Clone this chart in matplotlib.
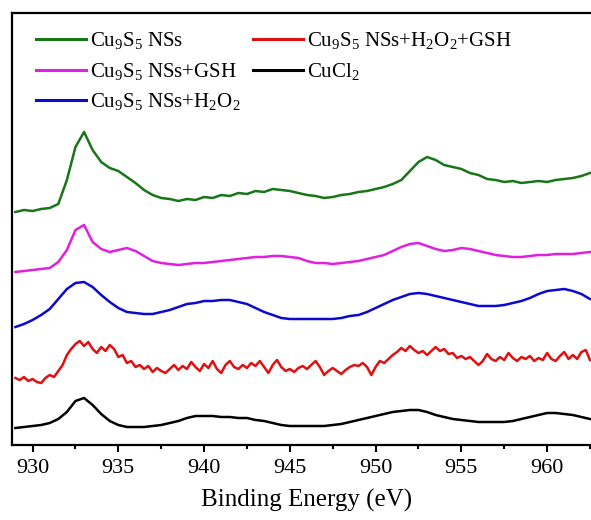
import numpy as np
import matplotlib
matplotlib.use("Agg")
import matplotlib.pyplot as plt
from matplotlib.ticker import MultipleLocator

plt.rcParams['font.family'] = ['Liberation Serif', 'DejaVu Serif']
plt.rcParams['mathtext.fontset'] = 'custom'
plt.rcParams['mathtext.rm'] = 'Liberation Serif'
plt.rcParams['mathtext.it'] = 'Liberation Serif:italic'

# ---- data (binding energy in eV, intensity in arbitrary offset units) ----
energy_coarse = np.arange(929.0, 962.51, 0.5)
energy_fine = np.arange(929.0, 962.51, 0.25)

green_nss = [233, 235, 234, 236, 237, 241, 265, 298, 313, 295, 283, 277, 274, 268, 262, 255,
             250, 247, 246, 244, 246, 245, 248, 247, 250, 249, 252, 251, 254, 253, 256, 255,
             254, 252, 250, 249, 247, 248, 250, 251, 253, 254, 256, 258, 261, 265, 274, 283,
             288, 285, 280, 278, 276, 272, 270, 266, 265, 263, 264, 262, 263, 264, 263, 265,
             266, 267, 269, 272]

magenta_gsh = [173, 174, 175, 176, 177, 183, 195, 215, 220, 203, 196, 193, 195, 197, 194, 189,
               184, 182, 181, 180, 181, 182, 182, 183, 184, 185, 186, 187, 188, 188, 189, 189,
               188, 187, 184, 182, 182, 181, 182, 183, 184, 186, 188, 190, 194, 198, 201, 202,
               199, 196, 194, 195, 197, 196, 194, 192, 190, 189, 188, 188, 189, 190, 190, 191,
               191, 191, 192, 193]

blue_h2o2 = [118, 121, 125, 130, 136, 146, 156, 162, 163, 158, 150, 143, 137, 133, 132, 131,
             131, 133, 135, 138, 141, 142, 144, 144, 145, 145, 143, 141, 137, 133, 130, 127,
             126, 126, 126, 126, 126, 126, 127, 129, 130, 133, 137, 141, 145, 148, 151, 152,
             151, 149, 147, 145, 143, 141, 139, 139, 139, 140, 142, 144, 147, 151, 154, 155,
             156, 154, 151, 146]

red_h2o2_gsh = [67, 65, 68, 64, 66, 63, 62, 67, 70, 68, 74, 80, 90, 96, 101, 104,
                99, 103, 96, 92, 98, 94, 100, 96, 88, 90, 82, 84, 78, 80, 76, 79,
                73, 77, 74, 72, 76, 80, 75, 79, 76, 83, 78, 74, 81, 77, 84, 76,
                72, 80, 84, 78, 76, 80, 77, 82, 79, 84, 78, 72, 80, 85, 78, 74,
                76, 73, 77, 79, 76, 80, 84, 78, 70, 74, 77, 74, 71, 75, 78, 80,
                79, 82, 78, 70, 78, 84, 82, 86, 90, 93, 97, 94, 99, 95, 92, 94,
                90, 94, 98, 94, 96, 91, 92, 87, 89, 86, 88, 84, 80, 84, 91, 86,
                84, 88, 85, 92, 87, 84, 88, 86, 89, 84, 87, 85, 92, 86, 84, 89,
                93, 86, 90, 86, 93, 95, 85]

black_cucl2 = [17, 18, 19, 20, 22, 26, 33, 44, 47, 40, 31, 24, 20, 18, 18, 18,
               19, 20, 22, 24, 27, 29, 29, 29, 28, 28, 27, 27, 25, 24, 22, 20,
               19, 19, 19, 19, 19, 20, 21, 23, 25, 27, 29, 31, 33, 34, 35, 35,
               33, 30, 28, 26, 25, 24, 23, 23, 23, 23, 24, 26, 28, 30, 32, 32,
               31, 30, 28, 26]

labels = [r'Cu$_9$S$_5$ NSs', r'Cu$_9$S$_5$ NSs+GSH', r'Cu$_9$S$_5$ NSs+H$_2$O$_2$',
          r'Cu$_9$S$_5$ NSs+H$_2$O$_2$+GSH', r'CuCl$_2$']
colors = ['#187518', '#e020e0', '#0a0ad0', '#e01010', '#000000']

xticks = [930, 935, 940, 945, 950, 955, 960]

# ---- figure ----
W, H = 591, 520
fig = plt.figure(figsize=(W / 100, H / 100), dpi=100)
ax = fig.add_axes([12 / W, (H - 445) / H, 590 / W, 432 / H])

series = [(energy_coarse, green_nss), (energy_coarse, magenta_gsh),
          (energy_coarse, blue_h2o2), (energy_fine, red_h2o2_gsh),
          (energy_coarse, black_cucl2)]
for (xs, ys), lab, col in zip(series, labels, colors):
    ax.plot(xs, ys, color=col, lw=1.8, label=lab)

ax.set_xlim(928.8, 963.2)
ax.set_ylim(0, 432)
ax.set_xticks(xticks)
ax.xaxis.set_minor_locator(MultipleLocator(2.5))
ax.tick_params(axis='x', which='major', direction='out', length=5, width=1.5,
               labelsize=16, pad=5)
ax.tick_params(axis='x', which='minor', direction='out', length=3, width=1.5)
ax.set_yticks([])
ax.spines['right'].set_visible(False)
for s in ['left', 'top', 'bottom']:
    ax.spines[s].set_linewidth(1.6)
ax.set_xlabel('Binding Energy (eV)', fontsize=18, labelpad=8)

leg = ax.legend(loc='upper left', bbox_to_anchor=(0.04, 0.96), ncol=2, frameon=False,
                fontsize=15, handlelength=2.4, handletextpad=0.2, columnspacing=0.6,
                labelspacing=0.46, borderpad=0, borderaxespad=0)
for l in leg.get_lines():
    l.set_linewidth(2.2)

fig.savefig('out.png', dpi=100)
